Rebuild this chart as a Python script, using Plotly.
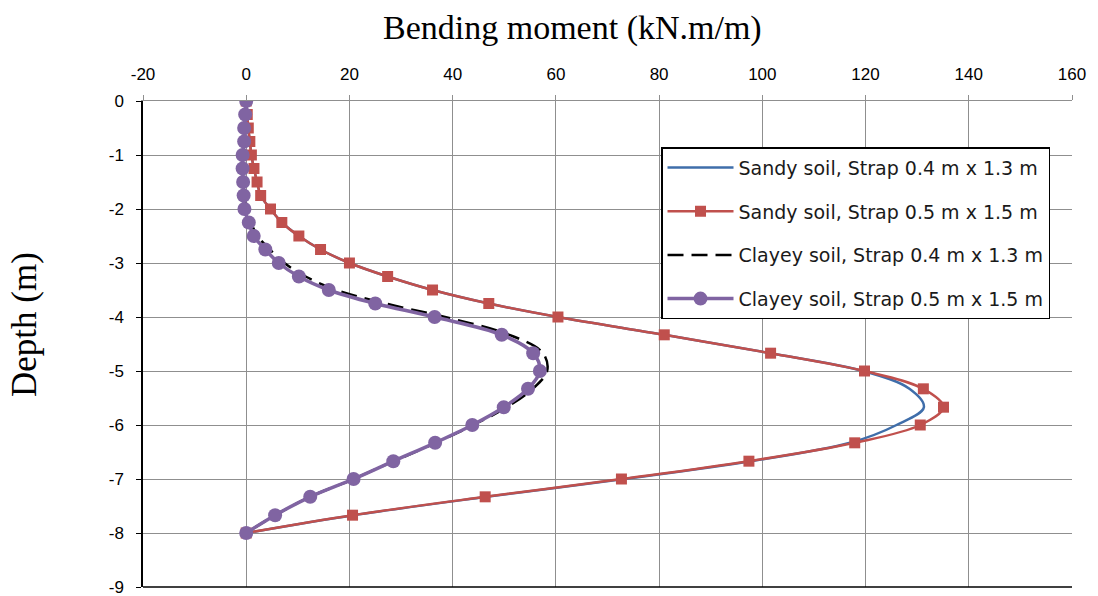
import plotly.graph_objects as go

# Depths (m)
depth = [0, -0.25, -0.5, -0.75, -1.0, -1.25, -1.5, -1.75, -2.0, -2.25, -2.5, -2.75,
         -3.0, -3.25, -3.5, -3.75, -4.0, -4.33, -4.67, -5.0, -5.33, -5.67, -6.0,
         -6.33, -6.67, -7.0, -7.33, -7.67, -8.0]

# Bending moment (kN.m/m)
sandy_04 = [0, 0.2, 0.4, 0.7, 1.0, 1.5, 2.1, 2.8, 4.7, 6.9, 10.2, 14.4,
            20.0, 27.4, 36.1, 47.0, 60.4, 81.0, 101.6, 119.5, 128.5, 131.3, 126.0,
            117.0, 97.8, 73.2, 46.6, 20.8, 0]
sandy_05 = [0, 0.2, 0.4, 0.7, 1.0, 1.5, 2.1, 2.8, 4.7, 6.9, 10.2, 14.4,
            20.0, 27.4, 36.1, 47.0, 60.4, 81.0, 101.6, 119.8, 131.2, 135.1, 130.6,
            117.9, 97.4, 72.7, 46.3, 20.6, 0]
clayey_04 = [0, -0.2, -0.4, -0.4, -0.7, -0.7, -0.6, -0.4, 0.0, 0.9, 2.2, 4.6,
             7.4, 11.5, 17.5, 27.0, 38.5, 51.0, 57.5, 58.3, 55.5, 50.5, 44.0,
             36.8, 28.6, 20.8, 12.4, 5.6, 0]
clayey_05 = [0, -0.2, -0.4, -0.4, -0.7, -0.7, -0.6, -0.5, -0.35, 0.5, 1.45, 3.7,
             6.3, 10.2, 16.0, 25.0, 36.5, 49.5, 55.6, 56.9, 54.6, 49.9, 43.8,
             36.6, 28.5, 20.8, 12.4, 5.6, 0]

names = ["Sandy soil, Strap 0.4 m x 1.3 m",
         "Sandy soil, Strap 0.5 m x 1.5 m",
         "Clayey soil, Strap 0.4 m x 1.3 m",
         "Clayey soil, Strap 0.5 m x 1.5 m"]

x_ticks = [-20, 0, 20, 40, 60, 80, 100, 120, 140, 160]
y_ticks = [0, -1, -2, -3, -4, -5, -6, -7, -8, -9]

fig = go.Figure()
fig.add_trace(go.Scatter(x=sandy_04, y=depth, name=names[0], mode="lines",
                         line=dict(color="#3F6EAA", width=2.5, shape="spline"),
                         legendgroup="a"))
fig.add_trace(go.Scatter(x=sandy_05, y=depth, name=names[1], mode="lines+markers",
                         line=dict(color="#C0504D", width=2.5, shape="spline"),
                         marker=dict(symbol="square", size=11, color="#C0504D"),
                         legendgroup="b"))
fig.add_trace(go.Scatter(x=clayey_04, y=depth, name=names[2], mode="lines",
                         line=dict(color="#000000", width=2.5, shape="spline", dash="16px,8px"),
                         legendgroup="c"))
fig.add_trace(go.Scatter(x=clayey_05, y=depth, name=names[3], mode="lines+markers",
                         line=dict(color="#8064A2", width=3.5, shape="spline"),
                         marker=dict(symbol="circle", size=14, color="#8064A2"),
                         legendgroup="d"))

tickfont = dict(family="Liberation Sans Narrow, Arial Narrow, Liberation Sans, sans-serif",
                size=17, color="#000000")

fig.update_layout(
    width=1098, height=596,
    margin=dict(l=143, r=26, t=101, b=9, autoexpand=False),
    paper_bgcolor="white", plot_bgcolor="white",
    showlegend=True,
    legend=dict(x=0.5576, y=0.905, xanchor="left", yanchor="top",
                bgcolor="white", bordercolor="#000000", borderwidth=1.5,
                font=dict(family="DejaVu Sans, Verdana, sans-serif", size=19, color="#1a1a1a"),
                tracegroupgap=16, itemwidth=66, traceorder="grouped"),
    xaxis=dict(range=[-20, 160], tickvals=x_ticks, ticktext=[str(v) for v in x_ticks],
               side="top", showgrid=True, gridcolor="#8f8f8f", gridwidth=1,
               zeroline=False, showline=True, linecolor="#8f8f8f", linewidth=1,
               ticks="outside", ticklen=5, tickcolor="#8f8f8f", automargin=False,
               tickfont=tickfont, ticklabelstandoff=8, mirror=False,
               ticklabeloverflow="allow"),
    yaxis=dict(range=[-9, 0], tickvals=y_ticks, ticktext=[str(v) for v in y_ticks],
               showgrid=True, gridcolor="#8f8f8f", gridwidth=1, automargin=False,
               zeroline=False, showline=True, linecolor="#000000", linewidth=1.5,
               ticks="outside", ticklen=5, tickcolor="#000000",
               tickfont=tickfont, ticklabelstandoff=9, ticklabeloverflow="allow"),
    annotations=[
        dict(text="Bending moment (kN.m/m)", x=572, y=596 - 28, xref="paper", yref="paper",
             showarrow=False, font=dict(family="Liberation Serif, Times New Roman, serif",
                                          size=34, color="#000000"),
             xanchor="center", yanchor="middle"),
        dict(text="Depth (m)", x=24, y=596 - 325, xref="paper", yref="paper",
             showarrow=False, textangle=-90,
             font=dict(family="Liberation Serif, Times New Roman, serif", size=35, color="#000000"),
             xanchor="center", yanchor="middle"),
    ],
)

# convert pixel positions of annotations into paper coordinates
pw = 1098 - 143 - 26
ph = 596 - 101 - 9
for ann in fig.layout.annotations:
    ann.x = (ann.x - 143) / pw
    ann.y = (ann.y - 9) / ph

# bottom border line of plot area
fig.add_shape(type="line", xref="paper", yref="paper", x0=0, x1=1, y0=0, y1=0,
              line=dict(color="#000000", width=1.5))

fig.write_html("out.html")
